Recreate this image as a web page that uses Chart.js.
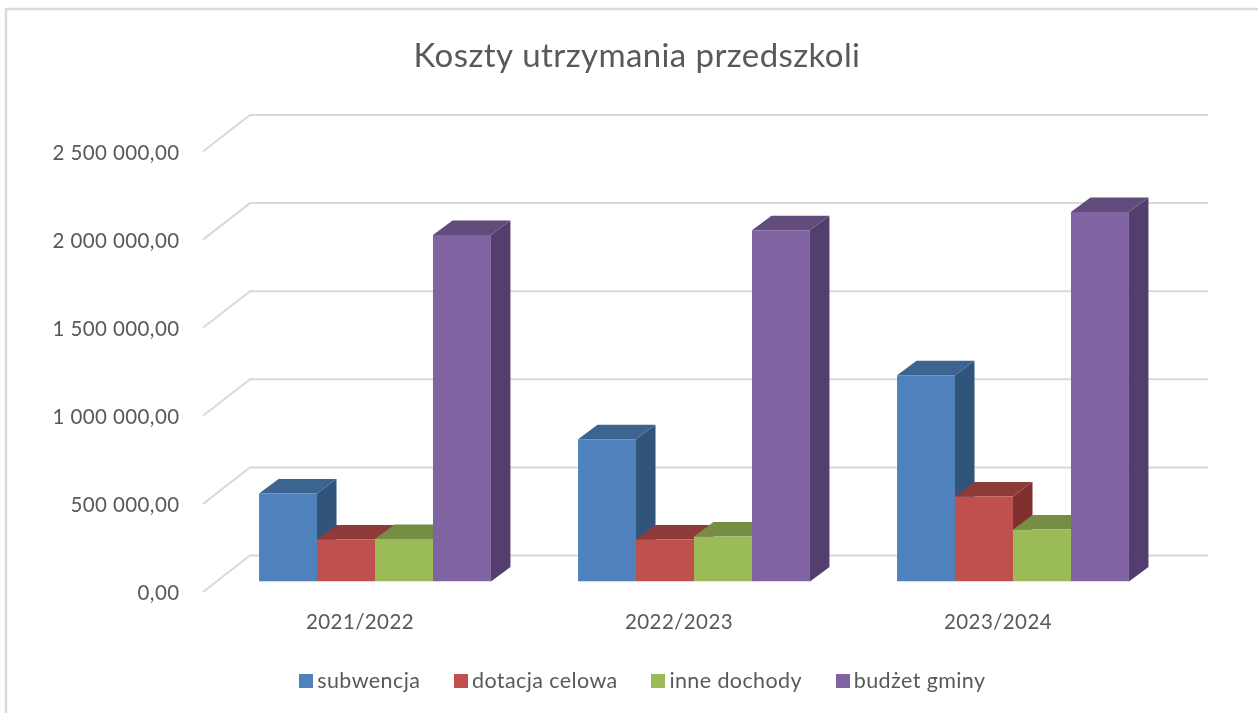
<!DOCTYPE html>
<html>
<head>
<meta charset="utf-8">
<title>Koszty utrzymania przedszkoli</title>
<script src="https://cdn.jsdelivr.net/npm/chart.js@4"></script>
<style>
	html, body { margin: 0; padding: 0; background: #fff; overflow: hidden; }
	#wrap { position: relative; width: 1258px; height: 713px; }
	canvas { display: block; filter: blur(0.4px); }
</style>
</head>
<body>
<div id="wrap"><canvas id="chart" width="1258" height="713"></canvas></div>
<script>
var categories = ["2021/2022", "2022/2023", "2023/2024"];
var subwencja = [500000, 807000, 1170000];
var dotacja = [239000, 239000, 483000];
var inne = [241000, 256000, 295000];
var budzet = [1966000, 1994000, 2097000];

// front, top and side colours of each series
var fronts = ["#4f81bd", "#c0504d", "#9bbb59", "#8064a2"];
var tops = ["#3c6491", "#8e3a38", "#768e43", "#614c7b"];
var sides = ["#31547a", "#7e2f2e", "#667b3a", "#533f6d"];

var fontName = "Lato, 'Open Sans', sans-serif";
var textColor = "#595959";
var lineColor = "#d9d9d9";

function face(ctx, color, pts) {
	ctx.fillStyle = color;
	ctx.beginPath();
	ctx.moveTo(pts[0][0], pts[0][1]);
	for (var i = 1; i < pts.length; i++)
		ctx.lineTo(pts[i][0], pts[i][1]);
	ctx.closePath();
	ctx.fill();
}

// legend marker as a small picture, chart.js keeps a wide gap after a normal box
function legendBox(color) {
	var c = document.createElement("canvas");
	c.width = 14;
	c.height = 14;
	var g = c.getContext("2d");
	g.fillStyle = color;
	g.fillRect(0, 0, 14, 14);
	return c;
}

// excel style 3d look: frame, walls and the side faces of the bars
var fake3d = {
	id: "fake3d",
	beforeUpdate: function(chart) {
		chart.ctx.letterSpacing = "0.4px";
	},
	afterLayout: function(chart) {
		// title and legend are centred on the whole frame, not the plot
		chart.titleBlock.left = 16;
		chart.titleBlock.right = 1258;
		chart.legend.left = 16;
		chart.legend.right = 1275;
		chart.legend.top -= 6;
	},
	beforeDraw: function(chart) {
		var ctx = chart.ctx;
		ctx.save();
		ctx.strokeStyle = lineColor;
		ctx.lineWidth = 2.5;
		ctx.strokeRect(6, 9, 1300, 800);
		ctx.restore();
	},
	beforeDatasetsDraw: function(chart) {
		var ctx = chart.ctx;
		var y = chart.scales.y;
		var area = chart.chartArea;

		ctx.save();
		ctx.strokeStyle = lineColor;
		ctx.lineWidth = 2;
		y.ticks.forEach(function(tick) {
			var py = y.getPixelForValue(tick.value);
			ctx.beginPath();
			ctx.moveTo(area.left - 12.5, py + 10.5);
			ctx.lineTo(area.left + 34.5, py - 26);
			ctx.lineTo(area.right + 35.5, py - 26);
			ctx.stroke();
		});

		var dx = 19.5, dy = 14.5;
		for (var i = 0; i < categories.length; i++) {
			chart.data.datasets.forEach(function(ds, d) {
				var bar = chart.getDatasetMeta(d).data[i];
				var l = bar.x - bar.width / 2, r = bar.x + bar.width / 2;
				face(ctx, sides[d], [[r, bar.y], [r + dx, bar.y - dy], [r + dx, bar.base - dy], [r, bar.base]]);
				face(ctx, tops[d], [[l, bar.y], [l + dx, bar.y - dy], [r + dx, bar.y - dy], [r, bar.y]]);
			});
		}
		ctx.restore();
	}
};

new Chart(document.getElementById("chart"), {
	type: "bar",
	data: {
		labels: categories,
		datasets: [
			{ label: "subwencja", data: subwencja, backgroundColor: fronts[0] },
			{ label: "dotacja celowa", data: dotacja, backgroundColor: fronts[1] },
			{ label: "inne dochody", data: inne, backgroundColor: fronts[2] },
			{ label: "budżet gminy", data: budzet, backgroundColor: fronts[3] }
		]
	},
	options: {
		responsive: false,
		animation: false,
		categoryPercentage: 0.727,
		barPercentage: 1,
		layout: { padding: { left: 0, right: 85.5, top: 0, bottom: 5 } },
		plugins: {
			tooltip: { enabled: false },
			title: {
				display: true,
				text: "Koszty utrzymania przedszkoli",
				color: textColor,
				font: { family: fontName, size: 33, weight: "normal" },
				padding: { top: 37, bottom: 64.4 }
			},
			legend: {
				position: "bottom",
				labels: {
					color: textColor,
					font: { family: fontName, size: 21.5 },
					usePointStyle: true,
					pointStyleWidth: 1,
					boxHeight: 14,
					padding: 40,
					generateLabels: function(chart) {
						var items = Chart.defaults.plugins.legend.labels.generateLabels(chart);
						items.forEach(function(item, d) {
							item.pointStyle = legendBox(fronts[d]);
						});
						return items;
					}
				}
			}
		},
		scales: {
			x: {
				afterFit: function(scale) { scale.height = 55; },
				grid: { display: false },
				border: { display: false },
				ticks: { color: textColor, font: { family: fontName, size: 20.5 }, labelOffset: -15, padding: 21 }
			},
			y: {
				min: 0,
				max: 2500000,
				afterFit: function(scale) { scale.width = 215.5; },
				grid: { display: false, drawTicks: false },
				border: { display: false },
				ticks: {
					stepSize: 500000,
					color: textColor,
					font: { family: fontName, size: 20.5 },
					labelOffset: 12,
					padding: 36,
					callback: function(v) {
						return v.toLocaleString("pl-PL", { minimumFractionDigits: 2, useGrouping: "always" }).replace(/\s/g, " ");
					}
				}
			}
		}
	},
	plugins: [fake3d]
});
</script>
</body>
</html>
